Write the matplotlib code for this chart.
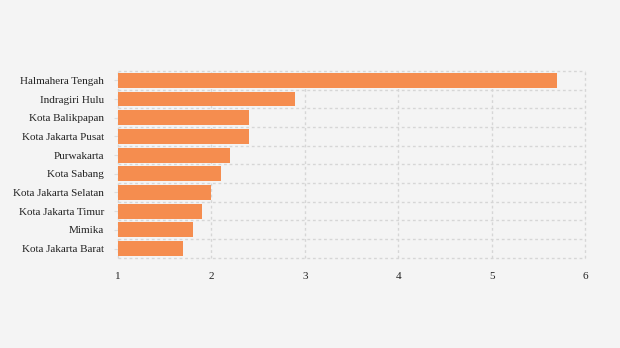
import numpy as np
import matplotlib.pyplot as plt

# data
regions = ["Halmahera Tengah", "Indragiri Hulu", "Kota Balikpapan", "Kota Jakarta Pusat",
           "Purwakarta", "Kota Sabang", "Kota Jakarta Selatan", "Kota Jakarta Timur",
           "Mimika", "Kota Jakarta Barat"]
values = [5.7, 2.9, 2.4, 2.4, 2.2, 2.1, 2.0, 1.9, 1.8, 1.7]
x_ticks = [1, 2, 3, 4, 5, 6]

plt.rcParams['font.family'] = ['Liberation Serif', 'DejaVu Serif']

fig = plt.figure(figsize=(6.2, 3.48), dpi=100, facecolor='#f4f4f4')
ax = fig.add_axes([0.190, 0.259, 0.754, 0.537], facecolor='#f4f4f4')

y = np.arange(len(regions))
base = x_ticks[0]
ax.barh(y, np.array(values) - base, left=base, height=0.8, color='#f58d4f', zorder=2)

ax.set_xlim(x_ticks[0], x_ticks[-1])
ax.set_ylim(len(regions) - 0.5, -0.5)
ax.set_xticks(x_ticks)
ax.set_xticklabels([str(t) for t in x_ticks])
ax.set_yticks(y)
ax.set_yticklabels(regions)
ax.set_yticks(np.arange(-0.5, len(regions), 1), minor=True)

ax.grid(axis='x', which='major', color='#d6d6d6', linestyle=(0, (2, 2)), linewidth=1, zorder=0)
ax.grid(axis='y', which='minor', color='#d6d6d6', linestyle=(0, (2, 2)), linewidth=1, zorder=0)
ax.grid(axis='y', which='major', visible=False)
# keep the edge grid lines at x=6 and the outer bands visible
for t in ax.yaxis.get_minor_ticks():
    t.gridline.set_clip_on(False)
for t in ax.xaxis.get_major_ticks():
    t.gridline.set_clip_on(False)

for s in ax.spines.values():
    s.set_visible(False)

ax.tick_params(axis='x', length=0, pad=10, labelsize=8, labelcolor='#222222')
ax.tick_params(axis='y', which='major', length=3, color='#dddddd', pad=7, labelsize=8,
               labelcolor='#222222')
ax.tick_params(axis='y', which='minor', length=0)

fig.savefig('out.png', dpi=100, facecolor=fig.get_facecolor())
